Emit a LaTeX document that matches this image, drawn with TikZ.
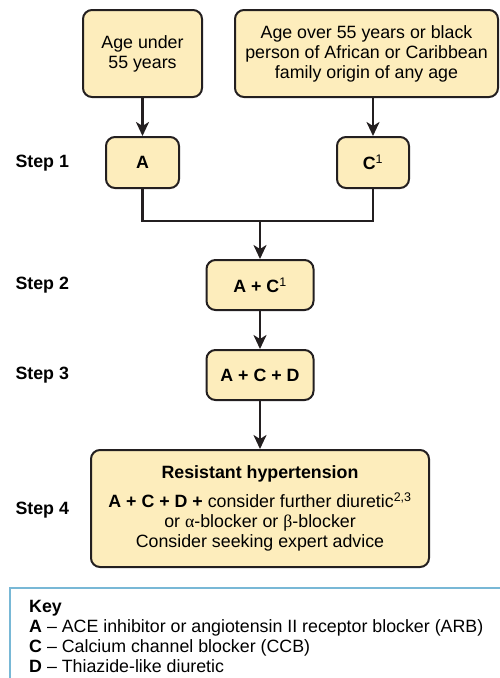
\documentclass[tikz,border=0pt]{standalone}
\usepackage{fontspec}
\setmainfont{Liberation Sans}
\newfontfamily\greekfont{Liberation Serif}
\usetikzlibrary{arrows.meta}
\definecolor{boxfill}{RGB}{253,237,188}
\definecolor{linecol}{RGB}{35,31,32}
\definecolor{keyblue}{RGB}{120,184,214}

\begin{document}
\begin{tikzpicture}[x=1pt,y=-1pt,
  font=\fontsize{17.8}{20}\selectfont,
  box/.style={draw=linecol,line width=2pt,fill=boxfill,rounded corners=9pt,align=center,inner sep=0pt},
  drugbox/.style={box,font=\fontsize{17.8}{20}\selectfont\bfseries},
  steplbl/.style={anchor=west,font=\fontsize{17.8}{20}\selectfont\bfseries},
  arr/.style={draw=linecol,line width=2.5pt,-{Stealth[length=14pt,width=13pt,inset=4pt]}},
  conn/.style={draw=linecol,line width=2.5pt}]
\useasboundingbox (0,0) rectangle (500,678);
% start boxes
\node[box,minimum width=119pt,minimum height=87pt] (young) at (142.5,53.5) {Age under\\55 years};
\node[box,minimum width=263pt,minimum height=87pt] (old) at (366.5,53.5) {Age over 55 years or black\\person of African or Caribbean\\family origin of any age};
% steps
\node[drugbox,minimum width=73pt,minimum height=51pt] (a) at (142.5,162.5) {A};
\node[drugbox,minimum width=72pt,minimum height=51pt] (c) at (373,162.5) {C\textsuperscript{\mdseries 1}};
\node[drugbox,minimum width=107pt,minimum height=50pt] (ac) at (260,285) {A + C\textsuperscript{\mdseries 1}};
\node[drugbox,minimum width=107pt,minimum height=50pt] (acd) at (260,375) {A + C + D};
\node[box,minimum width=338pt,minimum height=117pt] (resist) at (260,508.5) {\textbf{Resistant hypertension}\\[9pt]
  \textbf{A + C + D +} consider further diuretic\textsuperscript{2,3}\\
  or {\greekfont α}-blocker or {\greekfont β}-blocker\\
  Consider seeking expert advice};
\node[steplbl] (s1) at (12,163) {Step 1};
\node[steplbl] (s2) at (12,285) {Step 2};
\node[steplbl] (s3) at (12,375) {Step 3};
\node[steplbl] (s4) at (12,510) {Step 4};
% arrows
\coordinate (join) at (260,221);
\draw[arr] (young) -- (a);
\draw[arr] (c |- old.south) -- (c);
\draw[conn,line join=miter] (a.south) -- (a.south |- join) -- (c.south |- join) -- (c.south);
\draw[arr] (join) -- (ac);
\draw[arr] (ac) -- (acd);
\draw[arr] (acd) -- (resist);
% key
\draw[keyblue,line width=1.2pt] (500,588) -- (10,588) -- (10,678);
\node[anchor=north west,align=left,inner sep=0pt] (key) at (29,600.5) {\textbf{Key}\\
  \textbf{A} -- ACE inhibitor or angiotensin II receptor blocker (ARB)\\
  \textbf{C} -- Calcium channel blocker (CCB)\\
  \textbf{D} -- Thiazide-like diuretic};
\end{tikzpicture}
\end{document}
